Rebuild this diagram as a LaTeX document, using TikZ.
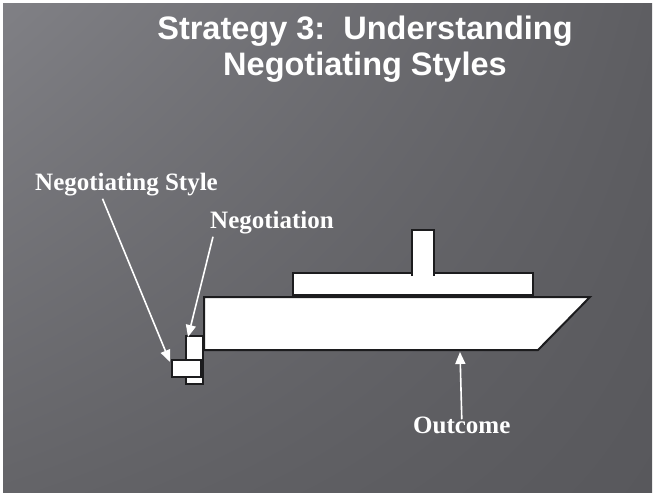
\documentclass[tikz,border=0pt]{standalone}
\usepackage{fontspec}
\setmainfont{Liberation Serif}
\newfontfamily\headfont{Liberation Sans}
\usetikzlibrary{arrows.meta}
\usetikzlibrary{positioning}
\usetikzlibrary{shadings}

\definecolor{slidetl}{RGB}{128,128,133}
\definecolor{slidetr}{RGB}{94,94,98}
\definecolor{slidebl}{RGB}{100,100,104}
\definecolor{slidebr}{RGB}{88,88,92}
\definecolor{hullline}{RGB}{28,28,30}

\tikzset{
	heading/.style = {text=white, inner sep=0, anchor=base, font=\headfont\bfseries\fontsize{32.5}{36}\selectfont},
	tag/.style = {text=white, inner sep=0, anchor=base west, font=\bfseries\fontsize{25}{28}\selectfont},
	part/.style = {draw=hullline, fill=white, line width=2pt, line join=miter},
	box/.style = {part, rectangle, inner sep=0, outer sep=0},
	ptr/.style = {draw=white, line width=1.6pt, -{Triangle[length=12pt,width=10pt]}}
}

\begin{document}
\begin{tikzpicture}[x=1pt,y=-1pt]
		\useasboundingbox (0,0) rectangle (656,497);
		\fill[white] (0,0) rectangle (656,497);
		\shade[upper left=slidetl, upper right=slidetr, lower left=slidebl, lower right=slidebr]
			(3,4) rectangle (652,492);

		% title
		\node[heading] (title1) at (365,40) {Strategy 3:\ \ Understanding};
		\node[heading] (title2) at (365,76) {Negotiating Styles};

		% the ship
		\draw[part] (293,295) rectangle (533,273);
		\filldraw[part] (412,276) -- (412,230) -- (434,230) -- (434,276);
		\draw[part] (204,297) -- (590,297) -- (538,350) -- (204,350) -- cycle;
		\coordinate (keel) at (460,352);

		% small boxes on the stern
		\node[box, minimum width=17, minimum height=48] (negobox) at (194.5,360) {};
		\node[box, minimum width=29, minimum height=17] (stylebox) at (186.5,368.5) {};

		% labels
		\node[tag] (lblstyle) at (35,191) {Negotiating Style};
		\node[tag] (lblnego) at (210,229) {Negotiation};
		\node[tag] (lbloutcome) at (413,433) {Outcome};

		\draw[ptr] ([xshift=-24pt,yshift=-2pt]lblstyle.south) -- ([xshift=-2pt,yshift=-2pt]stylebox.north west);
		\draw[ptr] ([xshift=3pt,yshift=-2pt]lblnego.south west) -- ([xshift=2pt,yshift=-1pt]negobox.north west);
		\draw[ptr] ([yshift=-3pt]lbloutcome.north) -- (keel);
	\end{tikzpicture}
\end{document}
